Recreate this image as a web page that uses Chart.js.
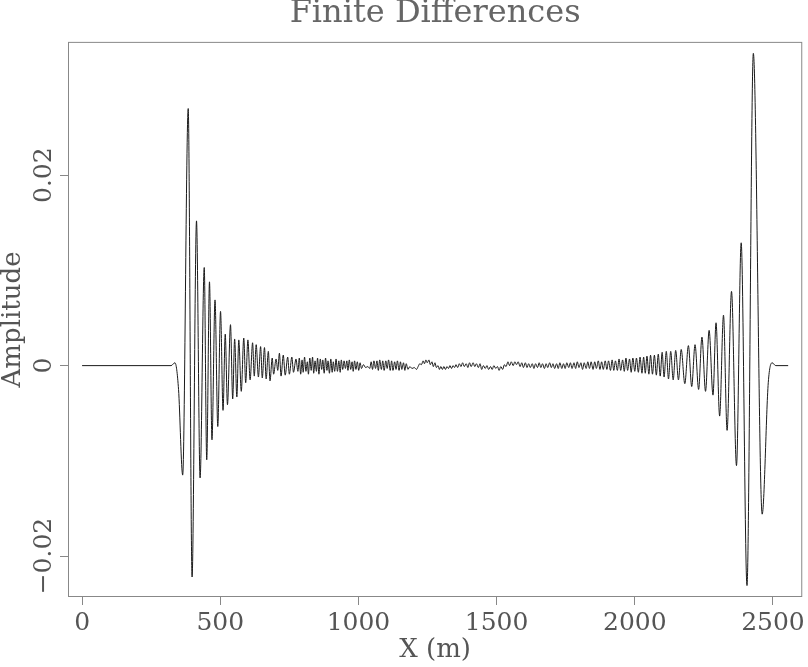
<!DOCTYPE html>
<html>
<head>
<meta charset="utf-8">
<script src="https://cdn.jsdelivr.net/npm/chart.js@4/dist/chart.umd.min.js"></script>
<style>
  html, body { margin: 0; padding: 0; background: #fff; }
  canvas { display: block; }
</style>
</head>
<body>
<canvas id="chart" width="808" height="667"></canvas>
<script>
// ---------- DATA (x in metres, amplitude) ----------
const xTickValues = [0, 500, 1000, 1500, 2000, 2500];
const yTickValues = [-0.02, 0, 0.02];

// leading (left-going) pulse and its first big wiggles
const frontBurst = [
  [0, 0], [322, 0], [336, 0.0003], [349, -0.0025], [364, -0.0115], [384, 0.0270],
  [398, -0.0222], [414, 0.0152], [427, -0.0118], [442, 0.0103], [451, -0.0099],
  [461, 0.0088], [470, -0.0078], [481, 0.0069], [491, -0.0064], [501, 0.0057],
  [510, -0.0047], [518, 0.0033], [526, -0.0041], [537, 0.0043], [545, -0.0035],
  [552, 0.0028], [560, -0.0033], [567, 0.0027], [576, -0.0027], [585, 0.0029],
  [592, -0.0018], [600, 0.0027], [608, -0.0015], [617, 0.0024]
];

// dispersive tail behind the left pulse
const trailLeft = [
  [623, -0.0011], [630, 0.0022], [638, -0.0012], [646, 0.0020], [652, -0.0013],
  [660, 0.0019], [666, -0.0014], [674, 0.0015], [680, -0.0016], [688, 0.0008],
  [693, -0.0009], [702, 0.0007], [708, -0.0005], [714, 0.0013], [720, -0.0011],
  [728, 0.0011], [735, -0.0010], [744, 0.0009], [750, -0.0009], [759, 0.0009],
  [765, -0.0007], [774, 0.0007], [781, -0.0006], [786, 0.0008], [791, -0.0009],
  [796, 0.0006], [800, -0.0007], [805, 0.0009], [810, -0.0006], [815, 0.0004],
  [819, -0.0009], [824, 0.0008], [829, -0.0005], [834, 0.0009], [838, -0.0008],
  [843, 0.0005], [848, -0.0006], [852, 0.0008], [857, -0.0009], [862, 0.0007],
  [867, -0.0004], [871, 0.0006], [876, -0.0008], [881, 0.0008], [886, -0.0005],
  [890, 0.0005], [895, -0.0008], [900, 0.0007], [905, -0.0007], [909, 0.0004],
  [914, -0.0006], [919, 0.0007], [924, -0.0006], [929, 0.0005], [934, -0.0007],
  [938, 0.0006], [943, -0.0004], [948, 0.0005], [953, -0.0003], [958, 0.0005],
  [962, -0.0005], [967, 0.0006], [972, -0.0004], [977, 0.0004], [981, -0.0006],
  [986, 0.0005]
];

// quiet middle section
const middle = [
  [991, -0.0004], [996, 0.0004], [1001, -0.0005], [1006, 0.0003], [1011, -0.0003],
  [1018, 0.0001], [1026, -0.0002], [1034, -0.0001], [1041, -0.0003], [1046, 0.0004],
  [1051, -0.0004], [1056, 0.0005], [1062, -0.0003], [1067, 0.0005], [1072, -0.0005],
  [1077, 0.0006], [1083, -0.0004], [1088, 0.0005], [1093, -0.0005], [1099, 0.0005],
  [1104, -0.0003], [1109, 0.0006], [1115, -0.0005], [1120, 0.0005], [1125, -0.0005],
  [1131, 0.0004], [1136, -0.0004], [1141, 0.0005], [1147, -0.0005], [1152, 0.0004],
  [1157, -0.0004], [1163, 0.0003], [1168, -0.0005], [1173, 0.0002], [1179, -0.0004],
  [1186, -0.0001], [1194, -0.0003], [1202, -0.0002], [1210, -0.0004], [1216, -0.0001],
  [1222, 0.0002], [1228, 0.0001], [1234, 0.0005], [1239, 0.0002], [1244, 0.0006],
  [1249, 0.0003], [1255, 0.0006], [1260, 0.0001], [1266, 0.0004], [1271, -0.0001],
  [1277, 0.0003], [1282, -0.0002], [1288, 0.0000], [1293, -0.0004], [1298, -0.0001],
  [1304, -0.0004], [1309, -0.0001], [1315, -0.0004], [1320, -0.0001], [1326, -0.0003],
  [1331, 0.0000], [1337, -0.0003], [1342, 0.0000], [1348, -0.0002], [1353, 0.0001],
  [1359, -0.0002], [1365, 0.0002], [1371, -0.0001], [1377, 0.0003], [1383, -0.0001],
  [1390, 0.0002], [1396, -0.0002], [1402, 0.0003], [1408, -0.0001], [1415, 0.0003],
  [1421, -0.0001], [1427, 0.0002], [1434, -0.0002], [1440, 0.0002], [1446, -0.0004],
  [1452, 0.0000], [1459, -0.0003], [1465, 0.0000], [1471, -0.0004], [1478, -0.0001],
  [1484, -0.0004], [1490, 0.0000], [1497, -0.0003], [1503, -0.0001], [1509, -0.0005],
  [1515, -0.0001], [1522, -0.0004], [1528, 0.0001], [1534, -0.0001], [1541, 0.0004],
  [1547, 0.0000], [1553, 0.0004], [1560, 0.0000], [1566, 0.0004], [1572, 0.0001],
  [1578, 0.0004], [1585, -0.0001], [1591, 0.0003], [1597, -0.0002], [1604, 0.0003],
  [1610, -0.0002], [1616, 0.0002], [1622, -0.0002], [1629, 0.0002], [1635, -0.0003],
  [1641, 0.0002], [1648, -0.0002], [1654, 0.0003], [1660, -0.0002], [1666, 0.0002],
  [1673, -0.0003], [1679, 0.0002], [1685, -0.0002], [1692, 0.0003], [1698, -0.0002],
  [1704, 0.0002], [1710, -0.0003], [1717, 0.0002], [1723, -0.0003], [1729, 0.0003],
  [1736, -0.0003], [1742, 0.0002], [1748, -0.0003], [1754, 0.0003], [1761, -0.0002],
  [1767, 0.0003], [1773, -0.0003], [1780, 0.0003], [1786, -0.0003], [1792, 0.0004],
  [1798, -0.0002], [1805, 0.0003], [1811, -0.0004], [1817, 0.0003], [1824, -0.0003],
  [1830, 0.0004], [1836, -0.0003], [1842, 0.0004], [1849, -0.0004], [1855, 0.0004],
  [1861, -0.0003], [1868, 0.0005], [1874, -0.0004], [1880, 0.0004], [1886, -0.0004],
  [1893, 0.0005], [1899, -0.0004], [1905, 0.0005], [1912, -0.0005], [1918, 0.0006],
  [1924, -0.0005], [1930, 0.0005], [1937, -0.0005], [1943, 0.0007], [1949, -0.0005],
  [1956, 0.0006], [1962, -0.0006], [1968, 0.0008], [1974, -0.0005], [1981, 0.0007],
  [1987, -0.0007], [1993, 0.0008], [2000, -0.0006]
];

// dispersive tail in front of the right pulse
const trailRight = [
  [2006, 0.0008], [2013, -0.0007], [2019, 0.0009], [2026, -0.0008], [2032, 0.0009],
  [2038, -0.0008], [2044, 0.0010], [2051, -0.0009], [2057, 0.0011], [2064, -0.0009],
  [2071, 0.0011], [2078, -0.0010], [2085, 0.0012], [2092, -0.0011], [2099, 0.0014],
  [2106, -0.0012], [2114, 0.0015], [2122, -0.0014], [2130, 0.0015], [2139, -0.0015],
  [2148, 0.0016], [2158, -0.0015], [2168, 0.0017], [2181, -0.0019], [2194, 0.0021]
];

// right-going pulse
const backBurst = [
  [2206, -0.0022], [2218, 0.0022], [2231, -0.0025], [2243, 0.0030], [2256, -0.0027],
  [2269, 0.0037], [2283, -0.0031], [2294, 0.0045], [2307, -0.0053], [2321, 0.0053],
  [2334, -0.0068], [2350, 0.0078], [2368, -0.0105], [2385, 0.0129], [2406, -0.0231],
  [2429, 0.0328], [2461, -0.0156], [2483, -0.0018], [2497, 0.0003], [2510, 0],
  [2555, 0]
];

// ---------- CHART ----------
const serif = '"DejaVu Serif", "Liberation Serif", serif';
const ink = "#555";

let trace = [...frontBurst, ...trailLeft, ...middle, ...trailRight, ...backBurst]
  .map(p => ({ x: p[0], y: p[1] }));

function fmtAmp(v) {
  if (v === 0) return "0";
  return (v < 0 ? "\u2212" : "") + Math.abs(v).toFixed(2);
}

// frame box + vertical y tick labels
const frame = {
  id: "frame",
  afterDraw(chart) {
    let ctx = chart.ctx;
    let a = chart.chartArea;
    let y = chart.scales.y;

    ctx.save();
    ctx.strokeStyle = "#888";
    ctx.lineWidth = 1;
    ctx.strokeRect(a.left + 0.5, a.top + 0.5, a.right - a.left - 1, a.bottom - a.top - 1);

    ctx.fillStyle = ink;
    ctx.font = "25px " + serif;
    ctx.textAlign = "center";
    ctx.textBaseline = "middle";
    y.ticks.forEach(t => {
      ctx.save();
      ctx.translate(44, y.getPixelForValue(t.value));
      ctx.rotate(-Math.PI / 2);
      ctx.fillText(fmtAmp(t.value), 0, 0);
      ctx.restore();
    });
    ctx.restore();
  }
};

new Chart(document.getElementById("chart"), {
  type: "line",
  data: {
    datasets: [{
      data: trace,
      borderColor: "#1a1a1a",
      borderWidth: 1,
      pointRadius: 0,
      fill: false,
      cubicInterpolationMode: "monotone"
    }]
  },
  options: {
    responsive: false,
    animation: false,
    layout: { padding: { right: 2 } },
    plugins: {
      legend: { display: false },
      tooltip: { enabled: false },
      title: {
        display: true,
        text: "Finite Differences",
        fullSize: false,
        color: "#666",
        font: { family: serif, size: 32, weight: "normal", lineHeight: 0.84 },
        padding: { top: 0, bottom: 15 }
      }
    },
    scales: {
      x: {
        type: "linear",
        min: -51,
        max: 2606,
        afterBuildTicks: s => { s.ticks = xTickValues.map(v => ({ value: v })); },
        afterFit: s => { s.height = 70; },
        grid: { drawOnChartArea: false, drawTicks: true, tickLength: 8, color: "#888" },
        border: { display: false },
        ticks: {
          color: ink,
          font: { family: serif, size: 25 },
          padding: 3,
          maxRotation: 0,
          callback: v => String(v)
        },
        title: {
          display: true,
          text: "X (m)",
          color: ink,
          font: { family: serif, size: 26, lineHeight: 1 },
          padding: { top: 0, bottom: 4 }
        }
      },
      y: {
        type: "linear",
        min: -0.0243,
        max: 0.034,
        afterBuildTicks: s => { s.ticks = yTickValues.map(v => ({ value: v })); },
        afterFit: s => { s.width = 68; },
        grid: { drawOnChartArea: false, drawTicks: true, tickLength: 8, color: "#888" },
        border: { display: false },
        ticks: { display: false },
        title: {
          display: true,
          text: "Amplitude",
          color: ink,
          font: { family: serif, size: 26, lineHeight: 1 },
          padding: { top: 0, bottom: 0 }
        }
      }
    }
  },
  plugins: [frame]
});
</script>
</body>
</html>
